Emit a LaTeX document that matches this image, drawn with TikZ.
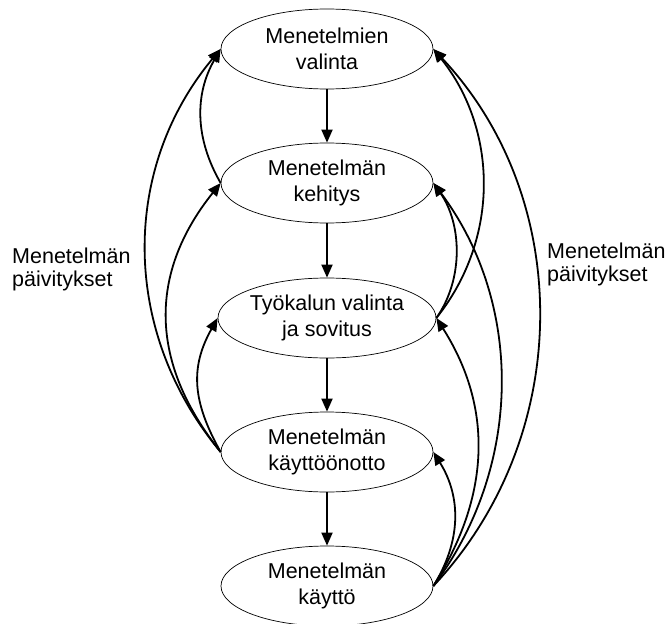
\documentclass[tikz,border=0pt]{standalone}
\usepackage{fontspec}
\setmainfont{Liberation Sans}
\usetikzlibrary{arrows.meta,shapes.geometric}
\begin{document}
\begin{tikzpicture}[x=1pt,y=-1pt,
  stage/.style={ellipse,draw,line width=0.7pt,minimum width=212pt,minimum height=80pt,inner sep=0pt,align=center,font=\fontsize{21.5}{26}\selectfont},
  lbl/.style={align=left,inner sep=0pt,anchor=north west,font=\fontsize{21.5}{23}\selectfont},
  flow/.style={line width=1.8pt,-{Triangle[length=13pt,width=11pt]}},
  back/.style={line width=1.8pt,-{Triangle[length=13pt,width=11pt]}}]
\useasboundingbox (0,0) rectangle (670,624);
\node[stage] (e1) at (327,49) {Menetelmien\\valinta};
\node[stage] (e2) at (327,183) {Menetelmän\\kehitys};
\node[stage] (e3) at (327,318) {Työkalun valinta\\ja sovitus};
\node[stage] (e4) at (327,452) {Menetelmän\\käyttöönotto};
\node[stage] (e5) at (327,586) {Menetelmän\\käyttö};
\node[lbl] (l1) at (12,248) {Menetelmän\\päivitykset};
\node[lbl] (l2) at (547,243) {Menetelmän\\päivitykset};
% vertical flow
\draw[flow] (e1.south) -- (e2.north);
\draw[flow] (e2.south) -- (e3.north);
\draw[flow] (e3.south) -- (e4.north);
\draw[flow] (e4.south) -- (e5.north);
% left feedback
\draw[back] (e4.west) .. controls +(-100,-120) and +(-100,120) .. (e1.west);
\draw[back] (e4.west) .. controls +(-72,-90) and +(-72,90) .. (e2.west);
\draw[back] (e4.west) .. controls +(-28,-50) and +(-28,50) .. (e3.west);
\draw[back] (e2.west) .. controls +(-26,-45) and +(-26,45) .. (e1.west);
% right feedback
\draw[back] (e5.east) .. controls +(141,-150) and +(141,150) .. (e1.east);
\draw[back] (e5.east) .. controls +(90,-120) and +(90,120) .. (e2.east);
\draw[back] (e5.east) .. controls +(57,-90) and +(57,90) .. (e3.east);
\draw[back] (e5.east) .. controls +(28,-45) and +(28,45) .. (e4.east);
\draw[back] (e3.east) .. controls +(64,-80) and +(64,80) .. (e1.east);
\draw[back] (e3.east) .. controls +(28,-40) and +(28,40) .. (e2.east);
\end{tikzpicture}
\end{document}
